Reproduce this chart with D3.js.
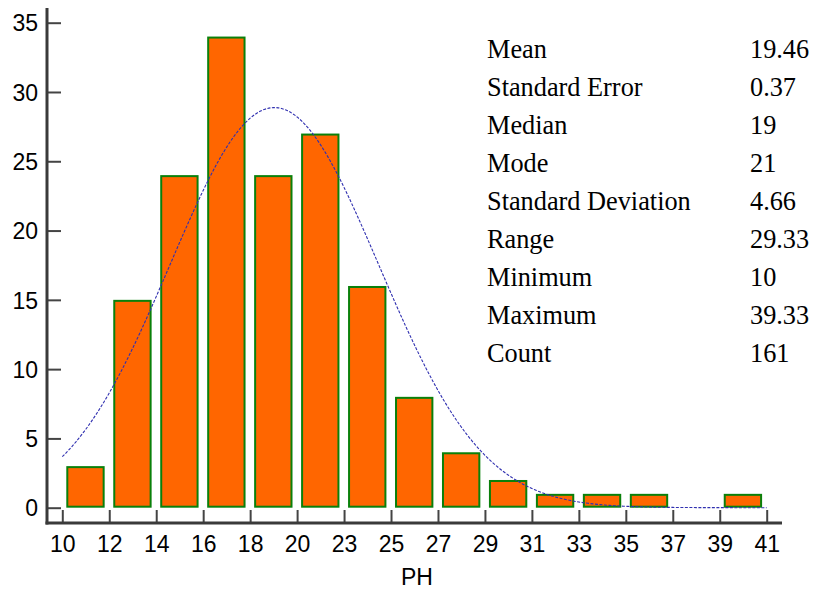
<!DOCTYPE html>
<html>
<head>
<meta charset="utf-8">
<script src="https://cdnjs.cloudflare.com/ajax/libs/d3/7.8.5/d3.min.js"></script>
<style>
  body { margin: 0; background: #fff; }
  svg { display: block; }
</style>
</head>
<body>
<div id="chart"></div>
<script>
// DATA
var counts = [3, 15, 24, 34, 24, 27, 16, 8, 4, 2, 1, 1, 1, 0, 1];
var tickLabels = ['10', '12', '14', '16', '18', '20', '23', '25', '27', '29', '31', '33', '35', '37', '39', '41'];
var yTicks = [0, 5, 10, 15, 20, 25, 30, 35];
var statNames = ['Mean', 'Standard Error', 'Median', 'Mode', 'Standard Deviation', 'Range', 'Minimum', 'Maximum', 'Count'];
var statValues = ['19.46', '0.37', '19', '21', '4.66', '29.33', '10', '39.33', '161'];

// FIT PARAMETERS (FROM THE STATS TABLE)
var mean = 19.46, sd = 4.66, n = 161, minV = 10, rangeV = 29.33;
var binWidth = rangeV / (counts.length - 1);

// GENERATE CANVAS
var svg = d3.select('#chart').append('svg')
   .attr('width', 814)
   .attr('height', 592)

// SCALES
var xScale = d3.scaleLinear()
   .domain([0, counts.length])
   .range([62.3, 766.7])

var yScale = d3.scaleLinear()
   .domain([0, 35])
   .range([507.7, 22.7])

// BARS (SKIP EMPTY BINS, KEEP BIN INDEX)
var bins = counts.map((c, i) => ({ i: i, c: c })).filter((d) => d.c > 0);

svg.selectAll('rect.bar')
   .data(bins)
      .enter().append('rect')
         .attr('class', 'bar')
         .attr('x', (d) => xScale(d.i) + 5)
         .attr('width', (d) => xScale(d.i + 1) - xScale(d.i) - 10.6)
         .attr('y', (d) => yScale(d.c) + 1)
         .attr('height', (d) => yScale(0) - yScale(d.c) - 2)
         .attr('fill', '#ff6600')
         .attr('stroke', '#0a800a')
         .attr('stroke-width', 2)

// NORMAL CURVE
var curvePts = d3.range(0, counts.length + 0.001, 0.05).map((t) => {
   var v = minV + t * binWidth;
   var z = (v - mean) / sd;
   return [t, n * binWidth / (sd * Math.sqrt(2 * Math.PI)) * Math.exp(-0.5 * z * z)];
});

var pathify = d3.line()
   .x((d) => xScale(d[0]))
   .y((d) => yScale(d[1]))

svg.append('path')
   .attr('fill', 'none')
   .attr('stroke', '#3030b0')
   .attr('stroke-width', 1.1)
   .attr('stroke-dasharray', '3,1.5')
   .attr('d', pathify(curvePts))

// Y AXIS
var yAxis = d3.axisLeft(yScale)
   .tickValues(yTicks)
   .tickSizeInner(-14)
   .tickSizeOuter(0)
   .tickPadding(9)

var gy = svg.append('g')
   .attr('transform', 'translate(47,0)')
   .call(yAxis)
gy.select('.domain').remove()
gy.selectAll('line').attr('stroke', '#444').attr('stroke-width', 2)
gy.selectAll('text')
   .attr('fill', '#000')
   .style('font-family', 'Liberation Sans, Arial, sans-serif')
   .style('font-size', '23px')
   .attr('dy', '0.36em')

// X AXIS
var xAxis = d3.axisBottom(xScale)
   .tickValues(d3.range(tickLabels.length))
   .tickFormat((i) => tickLabels[i])
   .tickSizeInner(-13)
   .tickSizeOuter(0)
   .tickPadding(13)

var gx = svg.append('g')
   .attr('transform', 'translate(0,523)')
   .call(xAxis)
gx.select('.domain').remove()
gx.selectAll('line').attr('stroke', '#444').attr('stroke-width', 2)
gx.selectAll('text')
   .attr('fill', '#000')
   .style('font-family', 'Liberation Sans, Arial, sans-serif')
   .style('font-size', '23px')

// AXIS LINES
svg.append('line')
   .attr('x1', 47).attr('x2', 47)
   .attr('y1', 8).attr('y2', 524.5)
   .attr('stroke', '#3a3a3a')
   .attr('stroke-width', 3)

svg.append('line')
   .attr('x1', 45.5).attr('x2', 782)
   .attr('y1', 523).attr('y2', 523)
   .attr('stroke', '#3a3a3a')
   .attr('stroke-width', 3)

// AXIS TITLE
svg.append('text')
   .attr('x', 417)
   .attr('y', 585)
   .attr('text-anchor', 'middle')
   .style('font-family', 'Liberation Sans, Arial, sans-serif')
   .style('font-size', '23px')
   .text('PH')

// STATS TABLE
var stats = svg.append('g')
   .style('font-family', 'Liberation Serif, Times New Roman, serif')
   .style('font-size', '26.3px')

stats.selectAll('text.name')
   .data(statNames)
      .enter().append('text')
         .attr('class', 'name')
         .attr('x', 487)
         .attr('y', (d, i) => 57.6 + i * 38.05)
         .text((d) => d)

stats.selectAll('text.val')
   .data(statValues)
      .enter().append('text')
         .attr('class', 'val')
         .attr('x', 750)
         .attr('y', (d, i) => 57.6 + i * 38.05)
         .text((d) => d)
</script>
</body>
</html>
